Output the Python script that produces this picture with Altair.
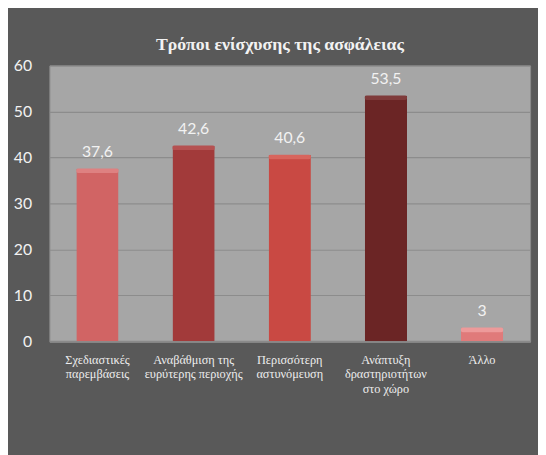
import altair as alt
import pandas as pd

categories = [
    "Σχεδιαστικές|παρεμβάσεις",
    "Αναβάθμιση της|ευρύτερης περιοχής",
    "Περισσότερη|αστυνόμευση",
    "Ανάπτυξη|δραστηριοτήτων|στο χώρο",
    "Άλλο",
]
values = [37.6, 42.6, 40.6, 53.5, 3]
colors = ["#d16464", "#a23a3a", "#c94943", "#6b2525", "#e07a7a"]
highlight = ["#e08686", "#b85656", "#db6a62", "#834040", "#eea0a0"]
y_ticks = [0, 10, 20, 30, 40, 50, 60]

df = pd.DataFrame({"cat": categories, "value": values, "color": colors, "hi": highlight})

SERIF = "Liberation Serif"

x = alt.X(
    "cat:N",
    sort=categories,
    scale=alt.Scale(paddingInner=0.56, paddingOuter=0.28),
    axis=alt.Axis(
        title=None,
        labelAngle=0,
        labelExpr="split(datum.label, '|')",
        labelFont=SERIF,
        labelFontSize=12.5,
        labelColor="#ededed",
        labelPadding=12,
        labelLineHeight=15,
        labelBaseline="top",
        ticks=False,
        domain=True,
        domainColor="#8a8a8a",
        domainWidth=2,
        grid=False,
    ),
)
y = alt.Y(
    "value:Q",
    scale=alt.Scale(domain=[0, 60]),
    axis=alt.Axis(
        title=None,
        values=y_ticks,
        labelFont="Lato",
        labelFontSize=16,
        labelColor="#f2f2f2",
        labelPadding=18,
        ticks=False,
        domain=False,
        gridColor="#8c8c8c",
        gridWidth=1.2,
    ),
)

bars = alt.Chart(df).mark_bar(cornerRadius=1).encode(
    x=x, y=y, color=alt.Color("color:N", scale=None)
)

tops = alt.Chart(df).transform_calculate(
    top="datum.value - 1.0"
).mark_bar(opacity=0.85, cornerRadius=2).encode(
    x=alt.X("cat:N", sort=categories),
    y="value:Q",
    y2="top:Q",
    color=alt.Color("hi:N", scale=None),
)

labels = alt.Chart(df).transform_calculate(
    txt="replace(toString(datum.value), '.', ',')"
).mark_text(
    baseline="bottom", dy=-9, font="Lato", fontSize=16, color="#f2f2f2"
).encode(x=alt.X("cat:N", sort=categories), y="value:Q", text="txt:N")

chart = alt.layer(bars, tops, labels).properties(
    width=488,
    height=280,
    background="#595959",
    padding={"left": 42, "top": 55, "right": 8, "bottom": 112},
    autosize=alt.AutoSizeParams(type="none"),
    title=alt.TitleParams(
        "Τρόποι ενίσχυσης της ασφάλειας",
        font="Liberation Serif",
        fontSize=18,
        fontWeight="bold",
        color="#f2f2f2",
        anchor="middle",
        dx=-10,
        offset=4,
    ),
).configure_view(fill="#a6a6a6", stroke="#8a8a8a", strokeWidth=1
).configure_axis(labelFont=SERIF).configure_axisY(labelFont="Lato")

chart.save("out.html", embed_options={"renderer": "svg", "actions": False})
